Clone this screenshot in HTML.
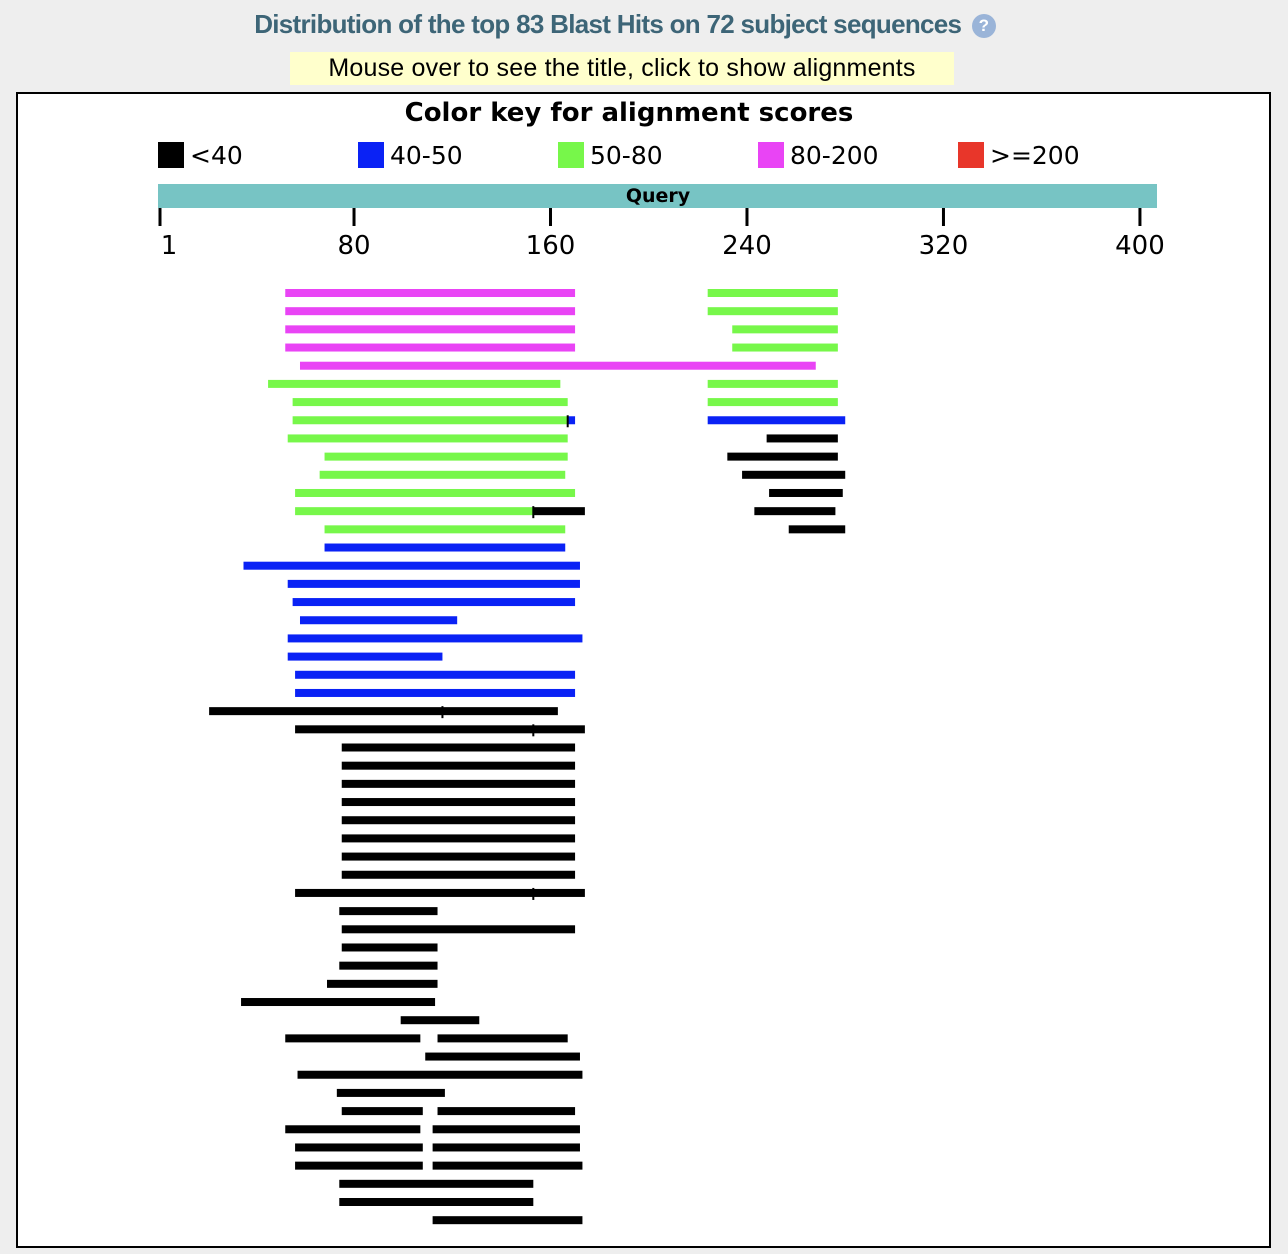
<!DOCTYPE html>
<html><head><meta charset="utf-8"><style>
body{margin:0;background:#eeeeee;width:1288px;height:1254px;overflow:hidden;font-family:"Liberation Sans",sans-serif;}
#title{position:absolute;left:0;width:1250px;top:9px;text-align:center;font-weight:bold;font-size:26px;color:#3d6577;letter-spacing:-0.7px;}
#help{display:inline-block;width:24px;height:24px;border-radius:50%;background:#9ab4d8;color:#fff;font-size:17px;line-height:24px;text-align:center;vertical-align:middle;margin-left:4px;letter-spacing:0;}
#hint{position:absolute;left:290px;top:52px;width:664px;height:33px;background:#ffffcc;text-align:center;font-size:25px;line-height:33px;color:#000;letter-spacing:0.2px;}
#box{position:absolute;left:16px;top:92px;width:1251px;height:1152px;background:#fff;border:2px solid #000;}
</style></head><body>
<div id="title">Distribution of the top 83 Blast Hits on 72 subject sequences <span id="help">?</span></div>
<div id="hint">Mouse over to see the title, click to show alignments</div>
<div id="box"></div>
<svg id="chart" width="1288" height="1254" style="position:absolute;left:0;top:0">
<text x="629" y="121" text-anchor="middle" font-size="26" font-weight="bold" font-family="DejaVu Sans, sans-serif">Color key for alignment scores</text>
<g id="legend"></g>
<rect x="158" y="184" width="999" height="24" fill="#77c4c4"/>
<text x="658" y="202" text-anchor="middle" font-size="19" font-weight="bold" font-family="DejaVu Sans, sans-serif">Query</text>
<g id="axis"></g>
<g id="hits"></g>
</svg>
<script>
const legendLabels=["<40","40-50","50-80","80-200",">=200"];
const legendColors=["#000000","#0a22f5","#77f74a","#e944f5","#e8362a"];
const tickValues=[1,80,160,240,320,400];
const colorOf={k:"#000000",b:"#0a22f5",g:"#77f74a",m:"#e944f5",r:"#e8362a"};
// each row: list of [start,end,scoreClass]
const rows=[
[[52,170,"m"],[224,277,"g"]],
[[52,170,"m"],[224,277,"g"]],
[[52,170,"m"],[234,277,"g"]],
[[52,170,"m"],[234,277,"g"]],
[[58,268,"m"]],
[[45,164,"g"],[224,277,"g"]],
[[55,167,"g"],[224,277,"g"]],
[[55,167,"g"],[167,170,"b"],[224,280,"b"]],
[[53,167,"g"],[248,277,"k"]],
[[68,167,"g"],[232,277,"k"]],
[[66,166,"g"],[238,280,"k"]],
[[56,170,"g"],[249,279,"k"]],
[[56,153,"g"],[153,174,"k"],[243,276,"k"]],
[[68,166,"g"],[257,280,"k"]],
[[68,166,"b"]],
[[35,172,"b"]],
[[53,172,"b"]],
[[55,170,"b"]],
[[58,122,"b"]],
[[53,173,"b"]],
[[53,116,"b"]],
[[56,170,"b"]],
[[56,170,"b"]],
[[21,116,"k"],[116,163,"k"]],
[[56,153,"k"],[153,174,"k"]],
[[75,170,"k"]],[[75,170,"k"]],[[75,170,"k"]],[[75,170,"k"]],
[[75,170,"k"]],[[75,170,"k"]],[[75,170,"k"]],[[75,170,"k"]],
[[56,153,"k"],[153,174,"k"]],
[[74,114,"k"]],
[[75,170,"k"]],
[[75,114,"k"]],
[[74,114,"k"]],
[[69,114,"k"]],
[[34,113,"k"]],
[[99,131,"k"]],
[[52,107,"k"],[114,167,"k"]],
[[109,172,"k"]],
[[57,173,"k"]],
[[73,117,"k"]],
[[75,108,"k"],[114,170,"k"]],
[[52,107,"k"],[112,172,"k"]],
[[56,108,"k"],[112,172,"k"]],
[[56,108,"k"],[112,173,"k"]],
[[74,153,"k"]],
[[74,153,"k"]],
[[112,173,"k"]]
];
const NS="http://www.w3.org/2000/svg";
const x=q=>160+(q-1)*2.456;
const rowY=i=>289+i*18.18;
const lg=document.getElementById("legend");
legendLabels.forEach((l,i)=>{
 const r=document.createElementNS(NS,"rect");
 r.setAttribute("x",158+i*200);r.setAttribute("y",142);r.setAttribute("width",26);r.setAttribute("height",26);r.setAttribute("fill",legendColors[i]);
 
 
 lg.appendChild(r);
 const t=document.createElementNS(NS,"text");
 t.setAttribute("x",190+i*200);t.setAttribute("y",164);t.setAttribute("font-size","25");t.setAttribute("font-family","DejaVu Sans, sans-serif");
 t.textContent=l;
 
 
 lg.appendChild(t);
});
const ax=document.getElementById("axis");
tickValues.forEach(v=>{
 const l=document.createElementNS(NS,"rect");
 l.setAttribute("x",x(v)-1.5);l.setAttribute("y",208);l.setAttribute("width",3);l.setAttribute("height",18);
 
 
 ax.appendChild(l);
 const t=document.createElementNS(NS,"text");
 t.setAttribute("x",v===1?x(v)+9:x(v));t.setAttribute("y",254);t.setAttribute("text-anchor","middle");t.setAttribute("font-size","26");t.setAttribute("font-family","DejaVu Sans, sans-serif");
 t.textContent=v;
 
 
 ax.appendChild(t);
});
const hg=document.getElementById("hits");
rows.forEach((segs,i)=>{
 segs.forEach((s,j)=>{
  const r=document.createElementNS(NS,"rect");
  r.setAttribute("x",x(s[0]));r.setAttribute("y",rowY(i));
  r.setAttribute("width",Math.max(1,x(s[1])-x(s[0])));r.setAttribute("height",8);
  r.setAttribute("fill",colorOf[s[2]]);
  
  
  hg.appendChild(r);
  if(j>0 && segs[j-1][1]===s[0]){
   const m=document.createElementNS(NS,"rect");
   m.setAttribute("x",x(s[0])-1);m.setAttribute("y",rowY(i)-1);m.setAttribute("width",2);m.setAttribute("height",12);m.setAttribute("fill","#000");
   
   
   hg.appendChild(m);
  }
 });
});
</script>
</body></html>
